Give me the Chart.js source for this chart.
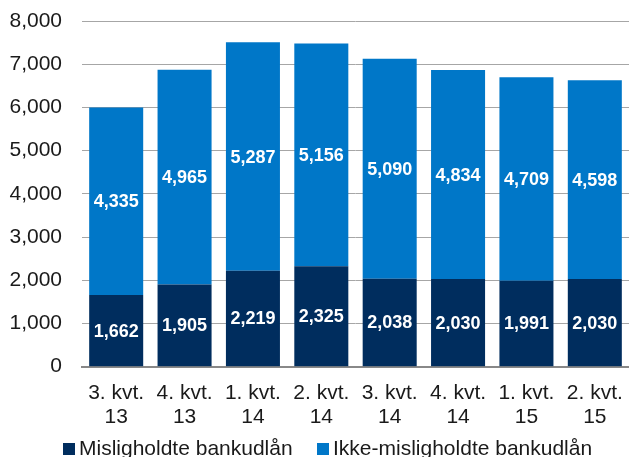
<!DOCTYPE html>
<html>
<head>
<meta charset="utf-8">
<script src="https://cdn.jsdelivr.net/npm/chart.js@4/dist/chart.umd.min.js"></script>
<style>
  html, body { margin:0; padding:0; background:#fff; }
  #wrap { width:629px; height:457px; position:relative; overflow:hidden; }
  #box { position:absolute; left:0; top:0; width:629px; height:443px; }
  .leg { position:absolute; top:437px; font:21px/21px 'Liberation Sans', Arial, sans-serif; color:#1a1a1a; white-space:nowrap; }
  .leg i { position:absolute; left:0; top:6px; width:12px; height:12px; }
  .leg span { position:absolute; left:16px; top:0; }
</style>
</head>
<body>
<div id="wrap">
  <div id="box"><canvas id="chart"></canvas></div>
  <div id="legend"></div>
</div>
<script>
const categories = [['3. kvt.', '13'], ['4. kvt.', '13'], ['1. kvt.', '14'], ['2. kvt.', '14'],
                    ['3. kvt.', '14'], ['4. kvt.', '14'], ['1. kvt.', '15'], ['2. kvt.', '15']];
const misligholdte = [1662, 1905, 2219, 2325, 2038, 2030, 1991, 2030];
const ikkeMisligholdte = [4335, 4965, 5287, 5156, 5090, 4834, 4709, 4598];
const yTicks = [0, 1000, 2000, 3000, 4000, 5000, 6000, 7000, 8000];
const seriesNames = ['Misligholdte bankudlån', 'Ikke-misligholdte bankudlån'];
const seriesColors = ['#002D5E', '#0077C8'];

const fmt = v => v.toLocaleString('en-US');
const FONT = "'Liberation Sans', Arial, sans-serif";

// white value labels centred in each segment
const barLabels = {
  id: 'barLabels',
  afterDatasetsDraw(chart) {
    const ctx = chart.ctx;
    ctx.save();
    ctx.fillStyle = '#fff';
    ctx.font = `bold 18px ${FONT}`;
    ctx.textAlign = 'center';
    ctx.textBaseline = 'middle';
    chart.data.datasets.forEach((ds, i) => {
      chart.getDatasetMeta(i).data.forEach((bar, j) => {
        const y = (bar.y + bar.base) / 2;
        ctx.fillText(fmt(ds.data[j]), bar.x, y + 1);
      });
    });
    ctx.restore();
  }
};

// legend as plain html below the canvas
const legendLeft = [63, 317];
document.getElementById('legend').innerHTML = seriesNames.map((name, i) =>
  `<div class="leg" style="left:${legendLeft[i]}px"><i style="background:${seriesColors[i]}"></i><span>${name}</span></div>`
).join('');

new Chart(document.getElementById('chart'), {
  type: 'bar',
  data: {
    labels: categories,
    datasets: [
      { label: seriesNames[0], data: misligholdte, backgroundColor: seriesColors[0] },
      { label: seriesNames[1], data: ikkeMisligholdte, backgroundColor: seriesColors[1] }
    ]
  },
  options: {
    responsive: true,
    maintainAspectRatio: false,
    animation: false,
    layout: { padding: 0 },
    datasets: { bar: { categoryPercentage: 1, barPercentage: 0.79 } },
    plugins: {
      legend: { display: false },
      tooltip: { enabled: false }
    },
    scales: {
      x: {
        stacked: true,
        grid: { display: false, drawTicks: false },
        border: { color: '#888', width: 2 },
        afterFit: s => { s.paddingRight = 0; s.paddingLeft = 0; },
        ticks: {
          color: '#1a1a1a',
          padding: 14,
          maxRotation: 0,
          font: { family: FONT, size: 21, lineHeight: 1.15 }
        }
      },
      y: {
        stacked: true,
        min: 0, max: 8000,
        afterBuildTicks: axis => { axis.ticks = yTicks.map(v => ({ value: v })); },
        afterFit: s => { s.width = 82; s.paddingTop = 21; s.paddingBottom = 0; },
        grid: { color: '#a6a6a6', lineWidth: 1, drawTicks: false },
        border: { display: false },
        ticks: {
          color: '#1a1a1a',
          padding: 20,
          font: { family: FONT, size: 21 },
          callback: v => fmt(v)
        }
      }
    }
  },
  plugins: [barLabels]
});
</script>
</body>
</html>
